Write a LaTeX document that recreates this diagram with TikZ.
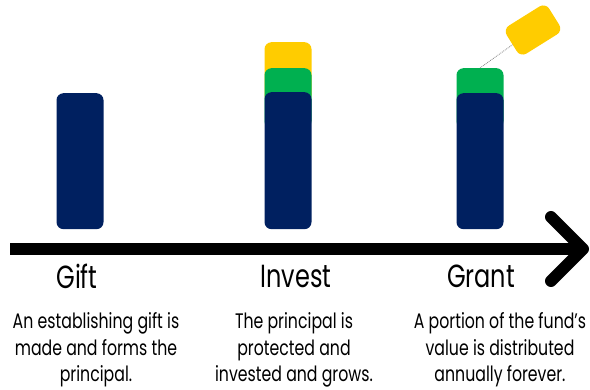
\documentclass[tikz,border=0pt]{standalone}
\usepackage{fontspec}
\setmainfont[FakeStretch=0.75]{Poppins}
\definecolor{mynavy}{RGB}{0,32,96}
\definecolor{mygreen}{RGB}{0,176,80}
\definecolor{myyellow}{RGB}{255,204,0}

\begin{document}
\begin{tikzpicture}[x=1pt, y=-1pt,
    bar/.style={rounded corners=7pt, minimum width=47pt, inner sep=0pt, anchor=north},
    stage/.style={font=\fontsize{32}{38}\selectfont},
    note/.style={align=center, font=\fontsize{21}{26.5}\selectfont}]
    \useasboundingbox (0, 0) rectangle (590, 390);
    % Bars
    \node[bar, fill=mynavy, minimum height=136pt] (GiftBase) at (80, 93) {};
    \node[bar, fill=myyellow, minimum height=60pt] (InvestTop) at (288, 42) {};
    \node[bar, fill=mygreen, minimum height=60pt] (InvestMid) at (288, 68) {};
    \node[bar, fill=mynavy, minimum height=137pt] (InvestBase) at (288, 92) {};
    \node[bar, fill=mygreen, minimum height=60pt] (GrantMid) at (480, 68) {};
    \node[bar, fill=mynavy, minimum height=136pt] (GrantBase) at (480, 93) {};
    \node[bar, fill=myyellow, minimum width=50pt, minimum height=33pt, anchor=center, rotate=32] (Payout) at (533, 30) {};
    \draw[gray, densely dotted, thick] (GrantMid.north) -- (Payout);
    % Timeline
    \coordinate (TimeStart) at (10, 249);
    \coordinate (TimeEnd) at (583, 249);
    \draw[line width=12pt] (TimeStart) -- (TimeEnd);
    \draw[line width=12pt, line cap=round, line join=round]
        (TimeEnd) ++(-32, -32) -- (TimeEnd) -- ++(-32, 32);
    % Labels
    \node[stage] (GiftLabel) at (77, 276) {Gift};
    \node[stage] (InvestLabel) at (296, 276) {Invest};
    \node[stage] (GrantLabel) at (481, 276) {Grant};
    \node[note] (GiftNote) at (96, 350) {An establishing gift is\\made and forms the\\principal.};
    \node[note] (InvestNote) at (294, 350) {The principal is\\protected and\\invested and grows.};
    \node[note] (GrantNote) at (500, 350) {A portion of the fund's\\value is distributed\\annually forever.};
\end{tikzpicture}
\end{document}
